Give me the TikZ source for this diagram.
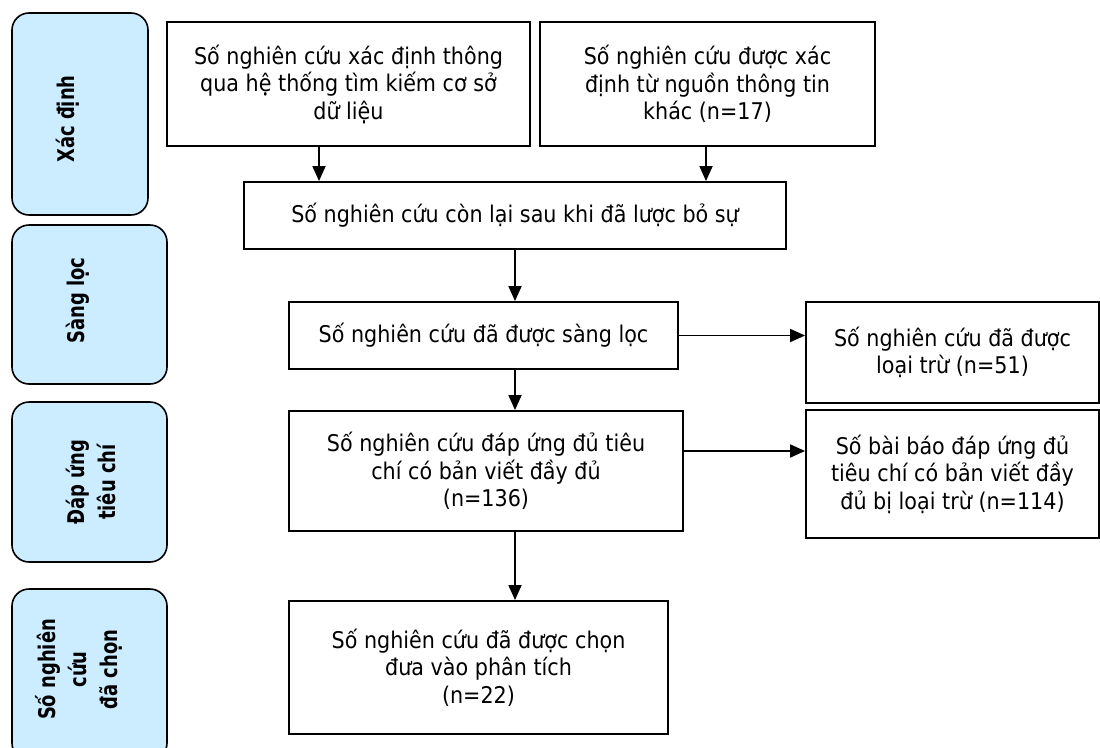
\documentclass[tikz,border=0pt]{standalone}
\usepackage{fontspec}
\setmainfont{DejaVu Sans}[FakeStretch=0.9]
\newfontfamily\sidefont{DejaVu Sans Bold}[FakeStretch=0.78]
\usetikzlibrary{arrows.meta}
\definecolor{sideblue}{RGB}{204,236,255}
\begin{document}
\begin{tikzpicture}[x=1pt,y=-1pt,
  box/.style={draw=black, line width=1.9pt, inner sep=0pt, align=center,
    font=\fontsize{23}{27.5}\selectfont},
  sidebox/.style={draw=black, line width=1.6pt, fill=sideblue, rounded corners=17pt,
    inner sep=0pt},
  sidelabel/.style={inner sep=0pt, align=center, rotate=90,
    font=\sidefont\fontsize{23}{31}\selectfont},
  arr/.style={line width=1.8pt, -{Triangle[length=15pt,width=13pt]}}]
\useasboundingbox (0,0) rectangle (1100,747);
\clip (0,0) rectangle (1100,747);
\fill[white] (0,0) rectangle (1100,747);

% side boxes
\node[sidebox, minimum width=136, minimum height=202] (s1) at (80,114) {};
\node[sidebox, minimum width=155, minimum height=159] (s2) at (89.5,304.5) {};
\node[sidebox, minimum width=155, minimum height=160] (s3) at (89.5,482) {};
\node[sidebox, minimum width=155, minimum height=171] (s4) at (89.5,674.5) {};
\node[sidelabel] (l1) at ([xshift=-12pt,yshift=-5pt]s1.center) {Xác định};
\node[sidelabel] (l2) at ([xshift=-12pt,yshift=4pt]s2.center) {Sàng lọc};
\node[sidelabel] (l3) at ([xshift=1pt]s3.center) {Đáp ứng\\tiêu chí};
\node[sidelabel] (l4) at ([xshift=-11pt,yshift=5pt]s4.center) {Số nghiên\\cứu\\đã chọn};

% main boxes
\node[box, minimum width=363, minimum height=124] (A) at (348.5,84)
  {Số nghiên cứu xác định thông\\qua hệ thống tìm kiếm cơ sở\\dữ liệu};
\node[box, minimum width=335, minimum height=124] (B) at (707.5,84)
  {Số nghiên cứu được xác\\định từ nguồn thông tin\\khác (n=17)};
\node[box, minimum width=542, minimum height=67] (C) at (515,215.5)
  {Số nghiên cứu còn lại sau khi đã lược bỏ sự};
\node[box, minimum width=389, minimum height=67] (D) at (483.5,335.5)
  {Số nghiên cứu đã được sàng lọc};
\node[box, minimum width=394, minimum height=120] (E) at (486,471)
  {Số nghiên cứu đáp ứng đủ tiêu\\chí có bản viết đầy đủ\\(n=136)};
\node[box, minimum width=379, minimum height=133] (F) at (478.5,667.5)
  {Số nghiên cứu đã được chọn\\đưa vào phân tích\\(n=22)};
\node[box, minimum width=293, minimum height=101] (G) at (952.5,352.5)
  {Số nghiên cứu đã được\\loại trừ (n=51)};
\node[box, minimum width=293, minimum height=128] (H) at (952.5,474)
  {Số bài báo đáp ứng đủ\\tiêu chí có bản viết đầy\\đủ bị loại trừ (n=114)};

% connectors
\draw[arr] ([xshift=-29.5pt]A.south) -- ([xshift=-29.5pt]A.south |- C.north);
\draw[arr] ([xshift=-1.5pt]B.south) -- ([xshift=-1.5pt]B.south |- C.north);
\draw[arr] (C.south) -- (C.south |- D.north);
\draw[arr] (D.south -| C.south) -- (E.north -| C.south);
\draw[arr] (E.south -| C.south) -- (F.north -| C.south);
\draw[arr] (D.east) -- (D.east -| G.west);
\draw[arr] ([yshift=20pt]E.east) -- ([yshift=20pt]E.east -| H.west);
\end{tikzpicture}
\end{document}
